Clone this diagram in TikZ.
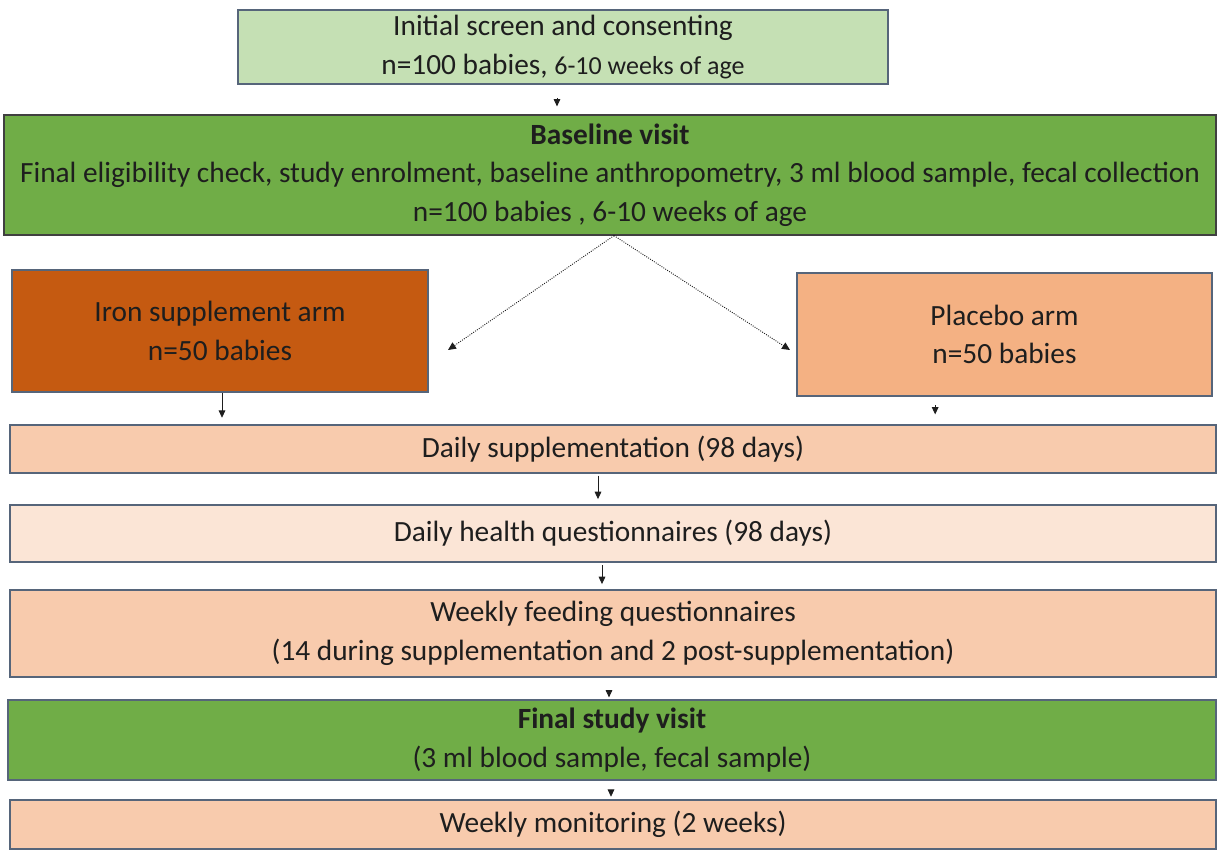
\documentclass[tikz,border=0pt]{standalone}
\usepackage{fontspec}
\setmainfont{Carlito}
\usepackage{xcolor}
\usetikzlibrary{arrows.meta, calc}

\definecolor{paleGreen}{HTML}{C5E0B4}
\definecolor{midGreen}{HTML}{70AD47}
\definecolor{rust}{HTML}{C55A11}
\definecolor{apricot}{HTML}{F4B183}
\definecolor{peach}{HTML}{F8CBAD}
\definecolor{cream}{HTML}{FBE5D6}
\definecolor{edgeGray}{HTML}{56657A}
\definecolor{textDark}{HTML}{1E1E1E}

\begin{document}
\begin{tikzpicture}[x=0.75pt, y=-0.75pt,
	box/.style={draw=edgeGray, line width=0.9pt, inner sep=0pt, align=center,
		text=textDark, font=\fontsize{22}{29}\selectfont},
	arr/.style={-{Triangle[length=5.5pt,width=5pt]}, line width=0.6pt, textDark},
	dotarr/.style={-{Triangle[length=6pt,width=5.5pt]}, densely dotted, line width=0.7pt, textDark}
	]
	\useasboundingbox (0,0) rectangle (1218,850);
	
	\node[box, fill=paleGreen, minimum width=487.5pt, minimum height=55.5pt] (screen) at (563,47)
		{Initial screen and consenting\\ n=100 babies, {\fontsize{19.5}{29}\selectfont 6-10 weeks of age}};
	\node[box, fill=midGreen, draw=black!75, minimum width=909pt, minimum height=90pt] (baseline) at (610,175)
		{\textbf{Baseline visit}\\ Final eligibility check, study enrolment, baseline anthropometry, 3 ml blood sample, fecal collection\\ n=100 babies , 6-10 weeks of age};
	\node[box, fill=rust, minimum width=312pt, minimum height=91.5pt] (iron) at (220,331)
		{Iron supplement arm\\ n=50 babies};
	\node[box, fill=apricot, minimum width=311.25pt, minimum height=92.25pt] (placebo) at (1004.5,334.5)
		{Placebo arm\\ n=50 babies};
	\node[box, fill=peach, minimum width=904.5pt, minimum height=36pt] (supp) at (613,449)
		{Daily supplementation (98 days)};
	\node[box, fill=cream, minimum width=904.5pt, minimum height=42.75pt] (health) at (613,533.5)
		{Daily health questionnaires (98 days)};
	\node[box, fill=peach, minimum width=904.5pt, minimum height=65.25pt] (feeding) at (613,633.5)
		{Weekly feeding questionnaires\\ (14 during supplementation and 2 post-supplementation)};
	\node[box, fill=midGreen, minimum width=906pt, minimum height=60pt] (final) at (612,740)
		{\textbf{Final study visit}\\ (3 ml blood sample, fecal sample)};
	\node[box, fill=peach, minimum width=904.5pt, minimum height=36.75pt] (monitor) at (613,824.5)
		{Weekly monitoring (2 weeks)};
	
	% randomisation
	\coordinate (ironin) at (448,350);
	\coordinate (placin) at (790,350);
	\draw[dotarr] ([xshift=3pt]baseline.south) -- (ironin);
	\draw[dotarr] ([xshift=3pt]baseline.south) -- (placin);
	
	\draw[arr, shorten <=10pt, shorten >=6pt] ([xshift=-4.5pt]screen.south) -- ([xshift=-4.5pt]screen.south |- baseline.north);
	\draw[arr, shorten >=5pt] ([xshift=1.5pt]iron.south) -- ([xshift=1.5pt]iron.south |- supp.north);
	\draw[arr, shorten <=6.5pt, shorten >=7.5pt] ([xshift=-52pt]placebo.south) -- ([xshift=-52pt]placebo.south |- supp.north);
	\draw[arr, shorten <=1.5pt, shorten >=4pt] ([xshift=-11.25pt]supp.south) -- ([xshift=-11.25pt]supp.south |- health.north);
	\draw[arr, shorten <=2pt, shorten >=4pt] ([xshift=-8.25pt]health.south) -- ([xshift=-8.25pt]health.south |- feeding.north);
	\draw[arr, shorten <=9.5pt, shorten >=1.5pt] ([xshift=-3pt]feeding.south) -- ([xshift=-3pt]feeding.south |- final.north);
	\draw[arr, shorten <=7pt, shorten >=2pt] ([xshift=-0.75pt]final.south) -- ([xshift=-0.75pt]final.south |- monitor.north);
\end{tikzpicture}
\end{document}
